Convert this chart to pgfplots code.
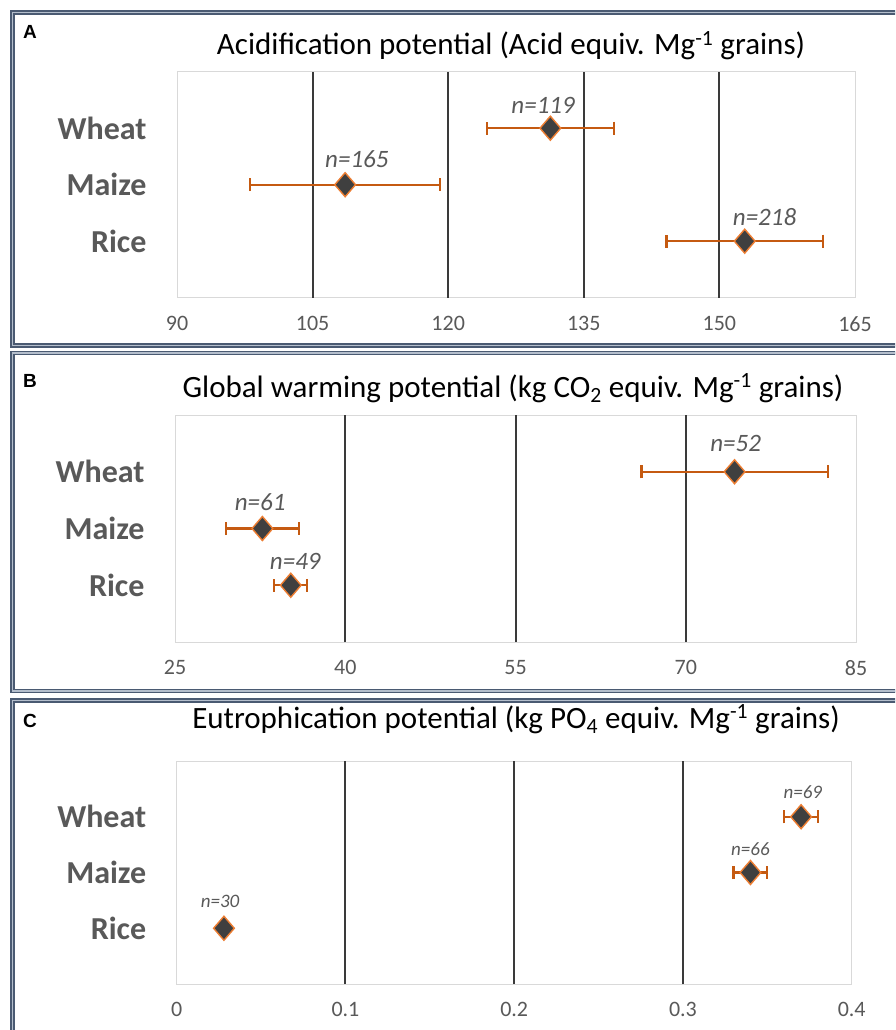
\documentclass[border=0pt]{standalone}
\usepackage{fontspec}
\setmainfont{Carlito}
\newfontfamily\arialfont{Liberation Sans}
\usepackage{pgfplots}
\pgfplotsset{compat=1.18}
\definecolor{tickgrey}{HTML}{595959}
\definecolor{barorange}{HTML}{C55A11}
\definecolor{markorange}{HTML}{ED7D31}
\definecolor{markfill}{HTML}{3F3F3F}
\definecolor{frameblue}{HTML}{4A5A72}
\definecolor{frameinner}{HTML}{B4BECC}
\definecolor{gridc}{HTML}{3A3A3A}

\tikzset{
 nlab/.style={font=\fontsize{25}{25}\selectfont\itshape, text=tickgrey},
 nlabs/.style={font=\fontsize{19}{19}\selectfont\itshape, text=tickgrey},
}
\pgfplotsset{
 panel/.style={
  scale only axis,
  anchor=south west,
  ymin=0, ymax=4,
  ytick={1,2,3},
  yticklabels={Rice,Maize,Wheat},
  yticklabel style={font=\fontsize{32}{32}\selectfont\bfseries, text=tickgrey, xshift=-27pt},
  xticklabel style={font=\fontsize{22}{22}\selectfont, text=tickgrey, yshift=-15pt},
  /pgf/number format/assume math mode=true,
  scaled x ticks=false,
  major tick length=0pt,
  axis line style={draw=black!15, line width=1pt},
  extra x tick labels={},
  extra x tick style={grid=major, major grid style={gridc, line width=2pt}},
  clip=false,
 },
 dot/.style={only marks, mark=diamond*, mark size=12pt,
   mark options={fill=markfill, draw=markorange, line width=1.4pt, xscale=1.15},
   error bars/.cd, x dir=both, x explicit,
   error mark=|,
   error bar style={barorange, line width=2.2pt},
   error mark options={barorange, line width=2.2pt, mark size=6.5pt}},
}

\pgfplotstableread{
x y ex
131.3 3 7.0
108.6 2 10.5
152.8 1 8.65
}\tabA
\pgfplotstableread{
x y ex
74.3 3 8.2
32.7 2 3.2
35.2 1 1.45
}\tabB
\pgfplotstableread{
x y ex
0.370 3 0.010
0.340 2 0.010
0.028 1 0.002
}\tabC

\begin{document}
\begin{tikzpicture}
\useasboundingbox (0,0) rectangle (895pt,-1030pt);
\clip (0,0) rectangle (895pt,-1030pt);
\fill[white] (0,0) rectangle (895pt,-1030pt);

% frames
\draw[frameblue, line width=1.6pt, double=frameinner, double distance=1.6pt] (12.5pt,-12.5pt) rectangle (920pt,-345.5pt);
\draw[frameblue, line width=1.6pt, double=frameinner, double distance=1.6pt] (12.5pt,-353pt) rectangle (920pt,-691pt);
\draw[frameblue, line width=1.6pt, double=frameinner, double distance=1.6pt] (12.5pt,-700.5pt) rectangle (920pt,-1050pt);

% panel letters
\node[anchor=base west, font=\arialfont\bfseries\fontsize{19}{19}\selectfont, inner sep=0pt] at (23pt,-39pt) {A};
\node[anchor=base west, font=\arialfont\bfseries\fontsize{19}{19}\selectfont, inner sep=0pt] at (23pt,-387pt) {B};
\node[anchor=base west, font=\arialfont\bfseries\fontsize{19}{19}\selectfont, inner sep=0pt] at (23pt,-727pt) {C};

% titles
\node[anchor=base, font=\fontsize{31}{31}\selectfont, inner sep=0pt] at (511pt,-55pt) {Acidification potential (Acid equiv. Mg\textsuperscript{-1} grains)};
\node[anchor=base, font=\fontsize{31}{31}\selectfont, inner sep=0pt] at (513pt,-397pt) {Global warming potential (kg CO\textsubscript{2} equiv. Mg\textsuperscript{-1} grains)};
\node[anchor=base, font=\fontsize{31}{31}\selectfont, inner sep=0pt] at (516pt,-728pt) {Eutrophication potential (kg PO\textsubscript{4} equiv. Mg\textsuperscript{-1} grains)};

% Panel A
\begin{axis}[panel, at={(177pt,-297.7pt)}, width=678pt, height=226pt,
  xmin=90, xmax=165, xtick={90,105,120,135,150,165},
  xticklabels={90,105,120,135,150,165},
  extra x ticks={105,120,135,150}]
\addplot[dot] table[x=x, y=y, x error=ex] {\tabA};
\node[nlab] at (axis cs:130.5,3.40) {n=119};
\node[nlab] at (axis cs:109.9,2.46) {n=165};
\node[nlab] at (axis cs:155.0,1.43) {n=218};
\end{axis}

% Panel B
\begin{axis}[panel, at={(175pt,-642pt)}, width=681pt, height=227pt,
  xmin=25, xmax=85, xtick={25,40,55,70,85},
  xticklabels={25,40,55,70,85},
  extra x ticks={40,55,70}]
\addplot[dot] table[x=x, y=y, x error=ex] {\tabB};
\node[nlab] at (axis cs:74.4,3.50) {n=52};
\node[nlab] at (axis cs:32.5,2.46) {n=61};
\node[nlab] at (axis cs:35.6,1.42) {n=49};
\end{axis}

% Panel C
\begin{axis}[panel, at={(176.7pt,-984pt)}, width=675pt, height=223pt,
  xmin=0, xmax=0.4, xtick={0,0.1,0.2,0.3,0.4},
  xticklabels={0,0.1,0.2,0.3,0.4},
  extra x ticks={0.1,0.2,0.3}]
\addplot[dot] table[x=x, y=y, x error=ex] {\tabC};
\node[nlabs] at (axis cs:0.371,3.45) {n=69};
\node[nlabs] at (axis cs:0.340,2.42) {n=66};
\node[nlabs] at (axis cs:0.0257,1.49) {n=30};
\end{axis}
\end{tikzpicture}
\end{document}
